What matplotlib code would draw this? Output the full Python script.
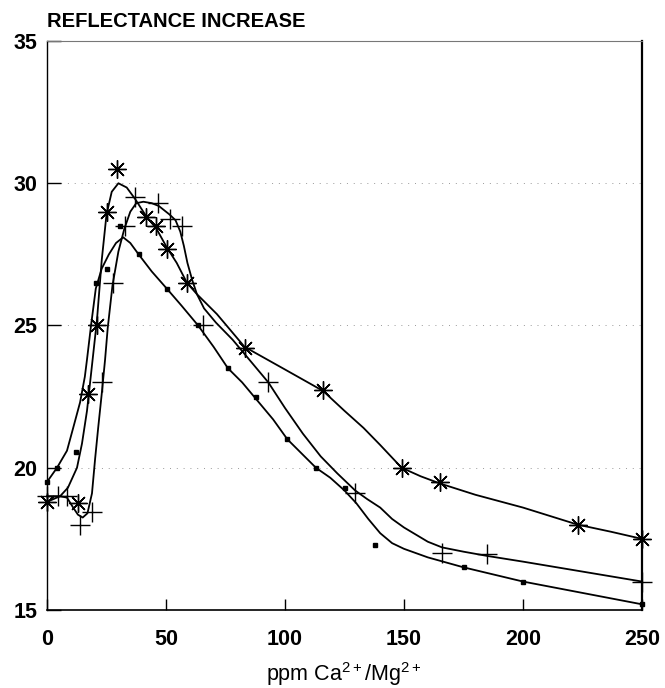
import matplotlib
matplotlib.use("Agg")
import matplotlib.pyplot as plt

plt.rcParams['font.family'] = ['Liberation Sans', 'DejaVu Sans']
plt.rcParams['mathtext.fontset'] = 'custom'
plt.rcParams['mathtext.rm'] = 'Liberation Sans'
plt.rcParams['mathtext.it'] = 'Liberation Sans'

# measured points (ppm, reflectance increase)
star_x = [0, 13, 17.2, 21, 25, 29.4, 41.6, 46, 50.3, 58.8, 83, 116, 149, 165, 223, 250]
star_y = [18.8, 18.75, 22.6, 25.0, 29.0, 30.5, 28.8, 28.5, 27.7, 26.5, 24.2, 22.75, 20.0, 19.5, 18.0, 17.5]

plus_x = [0, 4.7, 8.4, 14, 19, 23, 27.7, 32.8, 37, 46.6, 51.7, 56.7, 65.5, 93, 129.5, 166, 185, 250]
plus_y = [19.0, 19.0, 19.0, 18.0, 18.45, 23.0, 26.5, 28.5, 29.5, 29.3, 28.75, 28.5, 25.0, 23.0, 19.1, 17.0, 16.97, 16.0]

dot_x = [0, 4.2, 12, 20.6, 25.3, 30.7, 38.5, 50.3, 63.5, 76, 88, 100.8, 113, 125, 138, 175, 200, 250]
dot_y = [19.5, 20.0, 20.55, 26.5, 27.0, 28.5, 27.5, 26.3, 25.0, 23.5, 22.5, 21.0, 20.0, 19.3, 17.3, 16.5, 16.0, 15.2]

# fitted curves
star_cx = [0, 5.5, 8.8, 12.6, 14.7, 16.8, 18.9, 21, 23, 25, 27.2, 30, 33.5, 37, 41.6, 46, 50.3,
           54.5, 58.8, 63, 71.4, 83, 99, 116, 125, 133, 140, 149, 157, 165, 180, 200, 223, 237, 250]
star_cy = [18.8, 19.0, 19.3, 20.0, 20.85, 22.0, 23.6, 25.2, 27.3, 28.9, 29.7, 30.0, 29.85, 29.45, 28.85,
           28.4, 27.75, 27.2, 26.5, 26.1, 25.4, 24.25, 23.5, 22.7, 22.0, 21.4, 20.8, 20.0, 19.7, 19.45,
           19.05, 18.6, 18.0, 17.75, 17.5]

plus_cx = [0, 5.5, 8.4, 11, 13, 15, 17, 18.9, 20.2, 21.5, 23, 24.4, 25.5, 27.5, 30, 32.5, 35, 37.5,
           40.5, 44, 47, 51.5, 54, 56, 57.5, 59, 61, 63, 66, 71, 78, 86, 93, 100, 107.5, 115, 122,
           129.5, 134.5, 140, 145, 150, 160, 166, 175, 185, 200, 225, 250]
plus_cy = [19.0, 19.0, 18.95, 18.6, 18.35, 18.25, 18.4, 19.1, 20.3, 21.4, 22.6, 23.8, 24.9, 26.4, 27.6,
           28.4, 29.0, 29.3, 29.35, 29.3, 29.2, 28.9, 28.7, 28.3, 27.8, 27.2, 26.6, 26.1, 25.6, 25.1,
           24.5, 23.7, 23.0, 22.1, 21.2, 20.4, 19.8, 19.2, 18.9, 18.6, 18.2, 17.9, 17.4, 17.2, 17.05,
           16.9, 16.7, 16.35, 16.0]

dot_cx = [0, 4.2, 8.4, 11, 13.9, 15.9, 16.8, 18.5, 20.5, 23, 26, 29, 32, 35, 38.5, 44, 50.3, 56.5,
          63.5, 70, 76, 82, 88, 95, 101, 107, 113, 119, 125, 130, 135, 140, 145, 150, 160, 175,
          200, 225, 250]
dot_cy = [19.5, 20.0, 20.6, 21.4, 22.3, 23.2, 23.8, 25.0, 26.3, 27.0, 27.5, 27.9, 28.1, 27.9, 27.5,
          26.9, 26.3, 25.7, 25.0, 24.25, 23.5, 23.0, 22.4, 21.7, 21.0, 20.5, 20.0, 19.65, 19.2, 18.75,
          18.2, 17.7, 17.35, 17.15, 16.85, 16.5, 16.0, 15.6, 15.2]

xticks = [0, 50, 100, 150, 200, 250]
yticks = [15, 20, 25, 30, 35]

fig = plt.figure(figsize=(6.65, 6.88), dpi=100)
ax = fig.add_axes([47 / 665, 78 / 688, 595 / 665, 569 / 688])

for y in [20, 25, 30]:
    ax.axhline(y, color='#999999', lw=0.7, ls=(0, (1, 6)), zorder=0)

ax.plot(star_cx, star_cy, color='black', lw=1.3, clip_on=False)
ax.plot(plus_cx, plus_cy, color='black', lw=1.3, clip_on=False)
ax.plot(dot_cx, dot_cy, color='black', lw=1.3, clip_on=False)

ax.plot(star_x, star_y, ls='none', marker=(8, 2, 0), ms=13, mew=1.0, color='black', clip_on=False)
ax.plot(plus_x, plus_y, ls='none', marker='+', ms=15, mew=1.0, color='black', clip_on=False)
ax.plot(dot_x, dot_y, ls='none', marker='s', ms=3, color='black', clip_on=False)

ax.set_xlim(0, 250)
ax.set_ylim(15, 35)
ax.set_xticks(xticks)
ax.set_yticks(yticks)
ax.tick_params(axis='x', direction='in', length=8, width=1, pad=14, labelsize=15.5)
ax.tick_params(axis='y', direction='in', length=10, width=1, pad=7, labelsize=15.5)
for lab in ax.get_xticklabels() + ax.get_yticklabels():
    lab.set_fontweight('bold')

ax.spines['top'].set_color('#777777')
ax.spines['top'].set_linewidth(0.8)
ax.spines['left'].set_linewidth(1.0)
ax.spines['bottom'].set_linewidth(1.2)
ax.spines['right'].set_linewidth(1.6)

fig.text(344 / 665, 7 / 688, 'ppm Ca$^{2+}$/Mg$^{2+}$', fontsize=15.5, ha='center', va='baseline')
fig.text(47 / 665, 661 / 688, 'REFLECTANCE INCREASE', fontsize=14.5, fontweight='bold',
         ha='left', va='baseline')

fig.savefig('out.png', dpi=100)
